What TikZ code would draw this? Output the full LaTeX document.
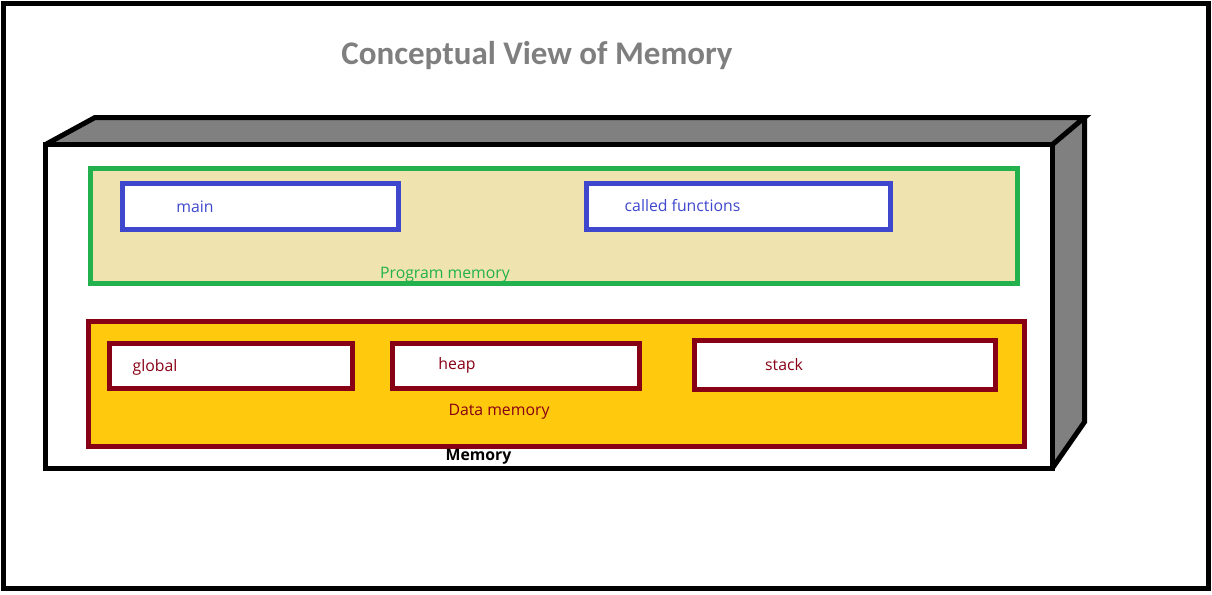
\documentclass[tikz,border=0pt]{standalone}
\usepackage{fontspec}
\setmainfont{Open Sans}
\newfontfamily\titlefont{Carlito}
\definecolor{pgreen}{HTML}{22B14C}
\definecolor{pwheat}{HTML}{EFE4B0}
\definecolor{pblue}{HTML}{3F48CC}
\definecolor{dred}{HTML}{880015}
\definecolor{dgold}{HTML}{FFC90E}
\definecolor{tgray}{HTML}{7F7F7F}
\definecolor{sgray}{HTML}{808080}
\tikzset{
  thick5/.style={line width=5pt},
  progbox/.style={draw=pgreen, fill=pwheat, line width=5pt, inner sep=0pt, outer sep=0pt},
  funcbox/.style={draw=pblue, fill=white, line width=5pt, inner sep=0pt, outer sep=0pt},
  databox/.style={draw=dred, fill=dgold, line width=5pt, inner sep=0pt, outer sep=0pt},
  segbox/.style={draw=dred, fill=white, line width=5pt, inner sep=0pt, outer sep=0pt},
  lbl/.style={inner sep=0pt, font=\fontsize{15.8}{19}\selectfont},
}
\begin{document}
\begin{tikzpicture}[x=1pt,y=-1pt]
\useasboundingbox (0,0) rectangle (1212,594);
% outer frame
\draw[thick5] (3.5,3.5) rectangle (1208.5,588.5);
% 3D memory box
\fill[sgray] (45.5,144.5) -- (95,117.5) -- (1084.5,117.5) -- (1084.5,422) -- (1052.5,468) -- (1052.5,144.5) -- cycle;
\draw[thick5, line join=miter] (45.5,144.5) -- (95,117.5) -- (1084.5,117.5) -- (1052.5,144.5);
\draw[thick5, line join=miter] (1084.5,117.5) -- (1084.5,422) -- (1052.5,468);
\draw[thick5, fill=white] (45.5,144.5) rectangle (1052.5,468);
% program memory
\node[progbox, minimum width=927pt, minimum height=115pt] (prog) at (554,226) {};
\node[funcbox, minimum width=276pt, minimum height=45.5pt] (mainbox) at (260.5,206.25) {};
\node[funcbox, minimum width=304pt, minimum height=45.5pt] (calledbox) at (738.5,206.25) {};
\node[lbl, text=pblue] (mainlbl) at (195,206.5) {main};
\node[lbl, text=pblue] (calledlbl) at (682.5,205.5) {called functions};
\node[lbl, text=pgreen] (proglbl) at (445,274.5) {Program memory};
% data memory
\node[databox, minimum width=936pt, minimum height=125pt] (data) at (556.5,384) {};
\node[segbox, minimum width=243.5pt, minimum height=44.5pt] (globalbox) at (230.75,365.75) {};
\node[segbox, minimum width=246.5pt, minimum height=45pt] (heapbox) at (515.75,366) {};
\node[segbox, minimum width=301pt, minimum height=49pt] (stackbox) at (845,365) {};
\node[lbl, text=dred] (globallbl) at (155,367.5) {global};
\node[lbl, text=dred] (heaplbl) at (457,365.5) {heap};
\node[lbl, text=dred] (stacklbl) at (784,364.5) {stack};
\node[lbl, text=dred] (datalbl) at (499,411.5) {Data memory};
\node[lbl, font=\fontsize{15.8}{19}\selectfont\bfseries] (memlbl) at (478.5,457) {Memory};
% title
\node[inner sep=0pt, text=tgray, font=\titlefont\fontsize{33}{40}\selectfont\bfseries] (title) at (537,56) {Conceptual View of Memory};
\end{tikzpicture}
\end{document}
